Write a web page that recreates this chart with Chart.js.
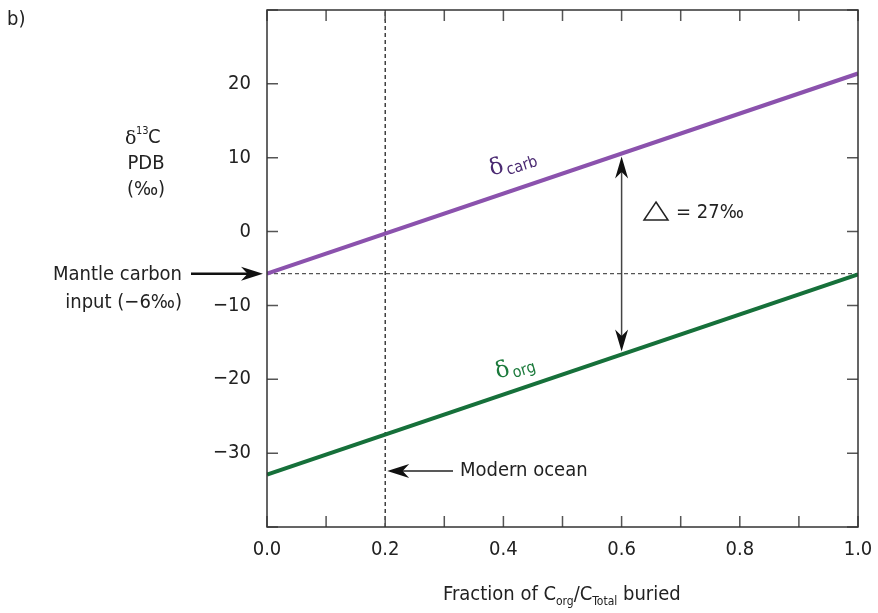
<!DOCTYPE html>
<html>
<head>
<meta charset="utf-8">
<script src="https://cdn.jsdelivr.net/npm/chart.js@4"></script>
<style>
  html, body { margin: 0; padding: 0; background: #fff; }
  #wrap { width: 878px; height: 613px; position: relative; }
</style>
</head>
<body>
<div id="wrap"><canvas id="chart"></canvas></div>
<script>
// Data
const fractions = [0.0, 1.0];
const deltaCarb = [-5.7, 21.4];
const deltaOrg = [-32.9, -5.8];
const mantleInput = [-5.7, -5.7];
const modernOcean = 0.2;
const yRange = [-40, 30];
const arrowAt = 0.6;

const FONT = '"DejaVu Sans Condensed", "DejaVu Sans", sans-serif';
const SERIF = '"DejaVu Serif", serif';
const INK = '#222';

function pts(xs, ys) {
    return xs.map((x, i) => ({ x: x, y: ys[i] }));
}

function lineAt(xs, ys, x) {
    const t = (x - xs[0]) / (xs[1] - xs[0]);
    return ys[0] + t * (ys[1] - ys[0]);
}

function arrowHead(ctx, x, y, angle, len, wid) {
    ctx.save();
    ctx.translate(x, y);
    ctx.rotate(angle);
    ctx.beginPath();
    ctx.moveTo(0, 0);
    ctx.lineTo(-len, -wid / 2);
    ctx.lineTo(-len * 0.7, 0);
    ctx.lineTo(-len, wid / 2);
    ctx.closePath();
    ctx.fill();
    ctx.restore();
}

// Frame, inward ticks and all the annotations
const decorations = {
    id: 'decorations',
    afterDraw(chart) {
        const ctx = chart.ctx;
        const a = chart.chartArea;
        const xs = chart.scales.x, ys = chart.scales.y;
        ctx.save();

        // ticks
        ctx.strokeStyle = '#555';
        ctx.lineWidth = 1.5;
        const tl = 11;
        xs.ticks.forEach(t => {
            const px = xs.getPixelForValue(t.value);
            ctx.beginPath();
            ctx.moveTo(px, a.bottom); ctx.lineTo(px, a.bottom - tl);
            ctx.moveTo(px, a.top); ctx.lineTo(px, a.top + tl);
            ctx.stroke();
        });
        ys.ticks.forEach(t => {
            const py = ys.getPixelForValue(t.value);
            ctx.beginPath();
            ctx.moveTo(a.left, py); ctx.lineTo(a.left + tl, py);
            ctx.moveTo(a.right, py); ctx.lineTo(a.right - tl, py);
            ctx.stroke();
        });

        // frame
        ctx.strokeStyle = '#333';
        ctx.lineWidth = 1.5;
        ctx.strokeRect(a.left, a.top, a.right - a.left, a.bottom - a.top);

        ctx.fillStyle = INK;
        ctx.textBaseline = 'middle';

        // panel letter
        ctx.font = '20px ' + FONT;
        ctx.textAlign = 'left';
        ctx.fillText('b)', 7, 20);

        // y axis title
        ctx.textAlign = 'left';
        ctx.font = '19px ' + SERIF;
        ctx.fillText('δ', 125, 139);
        ctx.font = '11px ' + FONT;
        ctx.fillText('13', 136, 131);
        ctx.font = '20px ' + FONT;
        ctx.fillText('C', 148, 138);
        ctx.textAlign = 'center';
        ctx.fillText('PDB', 146, 164);
        ctx.fillText('(‰)', 146, 190);

        // x axis title
        const ty = 595;
        let x = 443;
        const seg = (txt, size, dy) => {
            ctx.font = size + 'px ' + FONT;
            ctx.textAlign = 'left';
            ctx.fillText(txt, x, ty + dy);
            x += ctx.measureText(txt).width;
        };
        seg('Fraction of C', 20, 0);
        seg('org', 12, 7);
        seg('/C', 20, 0);
        seg('Total', 12, 7);
        seg(' buried', 20, 0);

        // mantle carbon input label and arrow
        const yMantle = ys.getPixelForValue(mantleInput[0]);
        ctx.font = '20px ' + FONT;
        ctx.textAlign = 'right';
        ctx.fillText('Mantle carbon', 182, yMantle + 1);
        ctx.fillText('input (−6‰)', 182, yMantle + 29);
        ctx.strokeStyle = '#111';
        ctx.fillStyle = '#111';
        ctx.lineWidth = 2.5;
        ctx.beginPath();
        ctx.moveTo(191, yMantle); ctx.lineTo(250, yMantle);
        ctx.stroke();
        arrowHead(ctx, a.left - 4, yMantle, 0, 22, 14);

        // modern ocean label and arrow
        const xMod = xs.getPixelForValue(modernOcean);
        const yMod = 471;
        ctx.fillStyle = INK;
        ctx.textAlign = 'left';
        ctx.fillText('Modern ocean', 460, yMod);
        ctx.strokeStyle = '#222';
        ctx.lineWidth = 1.5;
        ctx.beginPath();
        ctx.moveTo(453, yMod); ctx.lineTo(xMod + 15, yMod);
        ctx.stroke();
        ctx.fillStyle = '#111';
        arrowHead(ctx, xMod + 2, yMod, Math.PI, 22, 14);

        // double arrow between the two lines
        const xa = xs.getPixelForValue(arrowAt);
        const yTop = ys.getPixelForValue(lineAt(fractions, deltaCarb, arrowAt)) + 3;
        const yBot = ys.getPixelForValue(lineAt(fractions, deltaOrg, arrowAt)) - 3;
        ctx.strokeStyle = '#444';
        ctx.lineWidth = 1.5;
        ctx.beginPath();
        ctx.moveTo(xa, yTop + 15); ctx.lineTo(xa, yBot - 15);
        ctx.stroke();
        ctx.fillStyle = '#111';
        arrowHead(ctx, xa, yTop, -Math.PI / 2, 22, 13);
        arrowHead(ctx, xa, yBot, Math.PI / 2, 22, 13);

        // delta = 27 permil
        ctx.strokeStyle = '#222';
        ctx.lineWidth = 1.5;
        ctx.beginPath();
        ctx.moveTo(656, 202); ctx.lineTo(668, 220); ctx.lineTo(644, 220);
        ctx.closePath();
        ctx.stroke();
        ctx.fillStyle = INK;
        ctx.font = '20px ' + FONT;
        ctx.textAlign = 'left';
        ctx.fillText('= 27‰', 676, 213);

        // series labels
        const label = (main, sub, px, py, color) => {
            ctx.save();
            ctx.translate(px, py);
            ctx.rotate(-0.3);
            ctx.fillStyle = color;
            ctx.font = '23px ' + SERIF;
            ctx.textAlign = 'left';
            ctx.fillText(main, 0, 0);
            const w = ctx.measureText(main).width;
            ctx.font = '16px ' + FONT;
            ctx.fillText(sub, w + 2, 6);
            ctx.restore();
        };
        label('δ', 'carb', 490, 170, '#4b2a72');
        label('δ', 'org', 496, 373, '#1c7a3c');

        ctx.restore();
    }
};

new Chart(document.getElementById('chart'), {
    type: 'scatter',
    data: {
        datasets: [
            {
                label: 'δcarb',
                data: pts(fractions, deltaCarb),
                showLine: true,
                borderColor: '#8b52ad',
                borderWidth: 4,
                pointRadius: 0
            },
            {
                label: 'δorg',
                data: pts(fractions, deltaOrg),
                showLine: true,
                borderColor: '#16703a',
                borderWidth: 4,
                pointRadius: 0
            },
            {
                label: 'Mantle carbon input',
                data: pts(fractions, mantleInput),
                showLine: true,
                borderColor: '#555',
                borderWidth: 1.2,
                borderDash: [4, 3],
                pointRadius: 0
            },
            {
                label: 'Modern ocean',
                data: pts([modernOcean, modernOcean], yRange),
                showLine: true,
                borderColor: '#111',
                borderWidth: 1.2,
                borderDash: [4, 3],
                pointRadius: 0
            }
        ]
    },
    options: {
        responsive: true,
        maintainAspectRatio: false,
        animation: false,
        layout: { padding: { left: 0, right: 20, top: 10, bottom: 0 } },
        plugins: {
            legend: { display: false },
            tooltip: { enabled: false }
        },
        scales: {
            x: {
                type: 'linear',
                min: 0,
                max: 1,
                grid: { display: false },
                border: { display: false },
                afterFit: s => {
                    s.height = 86;
                    s.paddingLeft = 0;
                    s.paddingRight = 0;
                },
                ticks: {
                    stepSize: 0.1,
                    autoSkip: false,
                    maxRotation: 0,
                    padding: 3,
                    color: INK,
                    font: { family: FONT, size: 20 },
                    callback: v => (Math.round(v * 10) % 2 === 0) ? v.toFixed(1) : ''
                }
            },
            y: {
                type: 'linear',
                min: yRange[0],
                max: yRange[1],
                grid: { display: false },
                border: { display: false },
                afterFit: s => {
                    s.width = 267;
                    s.paddingTop = 0;
                    s.paddingBottom = 0;
                },
                ticks: {
                    stepSize: 10,
                    padding: 8,
                    color: INK,
                    font: { family: FONT, size: 20 },
                    callback: v => (v === yRange[0] || v === yRange[1]) ? '' : String(v).replace('-', '−')
                }
            }
        }
    },
    plugins: [decorations]
});
</script>
</body>
</html>
